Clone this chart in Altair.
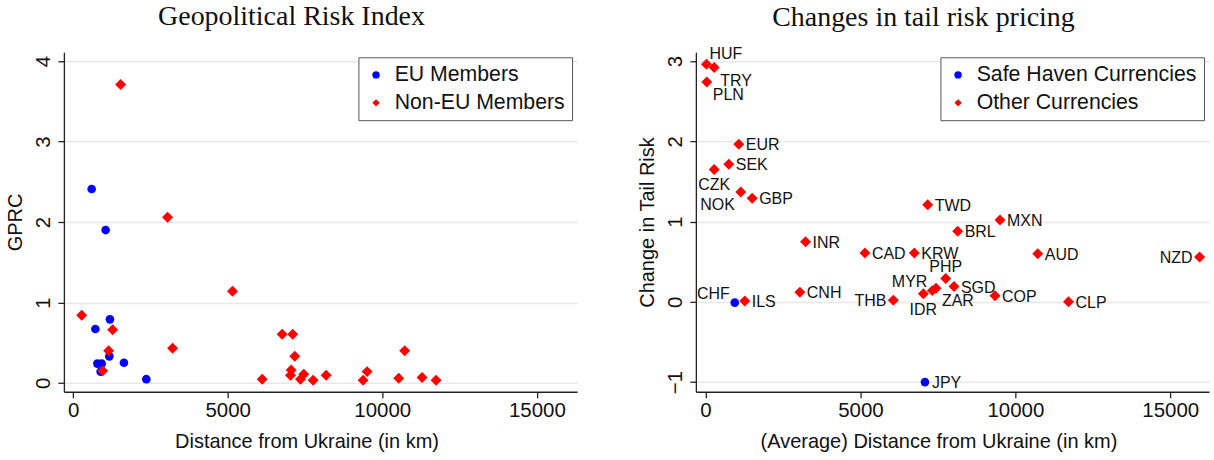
import altair as alt
import pandas as pd

# ---------------- Left panel: Geopolitical Risk Index ----------------
eu_distance = [598, 1050, 1189, 718, 1170, 782, 921, 889, 1642, 2366]
eu_gprc = [2.41, 1.90, 0.79, 0.67, 0.33, 0.24, 0.24, 0.14, 0.25, 0.046]

noneu_distance = [275, 1277, 1147, 953, 1535, 3054, 5155, 3216, 6115, 6761,
                  7104, 7169, 7052, 7030, 7460, 7353, 7763, 8183, 9509, 9379,
                  10724, 10530, 11286, 11739]
noneu_gprc = [0.84, 0.66, 0.40, 0.15, 3.71, 2.06, 1.14, 0.43, 0.046, 0.605,
              0.605, 0.33, 0.16, 0.096, 0.108, 0.046, 0.034, 0.096, 0.14, 0.034,
              0.40, 0.058, 0.066, 0.034]

left_groups = ["EU Members", "Non-EU Members"]

# ---------------- Right panel: Changes in tail risk pricing ----------------
currencies = ["HUF", "TRY", "PLN", "EUR", "SEK", "CZK", "NOK", "GBP", "TWD", "MXN",
              "BRL", "INR", "CAD", "KRW", "CNH", "CHF", "ILS", "THB", "JPY", "PHP",
              "SGD", "IDR", "MYR", "ZAR", "COP", "CLP", "AUD", "NZD"]
avg_distance = [32, 281, 42, 1076, 753, 281, 1140, 1508, 7171, 9506,
                8140, 3230, 5146, 6741, 3046, 946, 1269, 6063, 7083, 7752,
                8020, 7032, 7322, 7439, 9344, 11715, 10724, 15946]
tail_change = [2.96, 2.92, 2.74, 1.965, 1.716, 1.65, 1.37, 1.29, 1.21, 1.02,
               0.88, 0.75, 0.61, 0.61, 0.12, -0.01, 0.01, 0.02, -1.0, 0.29,
               0.19, 0.10, 0.14, 0.17, 0.075, 0.0, 0.60, 0.56]
safe_haven = ["CHF", "JPY"]
right_groups = ["Safe Haven Currencies", "Other Currencies"]

# label placement (style only)
label_pos = {"HUF": "tr", "TRY": "br", "PLN": "br", "CZK": "b", "NOK": "bl",
             "CHF": "tl", "THB": "l", "NZD": "l", "PHP": "t", "MYR": "tl",
             "IDR": "b", "ZAR": "br"}
pos_style = {
    "r": dict(dx=7, dy=1, align="left"),
    "l": dict(dx=-7, dy=1, align="right"),
    "t": dict(dx=0, dy=-12, align="center"),
    "b": dict(dx=0, dy=16, align="center"),
    "tr": dict(dx=3, dy=-10, align="left"),
    "br": dict(dx=6, dy=13, align="left"),
    "bl": dict(dx=-6, dy=13, align="right"),
    "tl": dict(dx=-5, dy=-9, align="right"),
}

BLUE = "#0000ff"
RED = "#ff0000"
W, H = 514, 340

left_df = pd.DataFrame({
    "dist": eu_distance + noneu_distance,
    "value": eu_gprc + noneu_gprc,
    "group": [left_groups[0]] * len(eu_distance) + [left_groups[1]] * len(noneu_distance),
})

right_df = pd.DataFrame({
    "code": currencies,
    "dist": avg_distance,
    "value": tail_change,
    "group": [right_groups[0] if c in safe_haven else right_groups[1] for c in currencies],
    "pos": [label_pos.get(c, "r") for c in currencies],
})


def legend():
    return alt.Legend(title=None, orient="top-right", offset=5, padding=7,
                      strokeColor="#555555", fillColor="white",
                      labelFontSize=21.3, labelFont="Liberation Sans", labelColor="#111111",
                      labelLimit=500, symbolSize=55, symbolStrokeWidth=0, rowPadding=6,
                      labelOffset=8, symbolType="circle")


def points(df, groups, xdom, ydom, yvals, xtitle, ytitle):
    return alt.Chart(df).mark_point(filled=True, opacity=1, strokeWidth=0).encode(
        x=alt.X("dist:Q", scale=alt.Scale(domain=xdom, nice=False, zero=False),
                axis=alt.Axis(title=xtitle, values=[0, 5000, 10000, 15000], format="d",
                              grid=False, labelPadding=3, titlePadding=10, titleX=243)),
        y=alt.Y("value:Q", scale=alt.Scale(domain=ydom, nice=False, zero=False),
                axis=alt.Axis(title=ytitle, values=yvals, format="d", grid=True,
                              labelAngle=270, labelAlign="center", labelBaseline="bottom",
                              labelPadding=4, titlePadding=8)),
        color=alt.Color("group:N", scale=alt.Scale(domain=groups, range=[BLUE, RED]),
                        legend=legend()),
        shape=alt.Shape("group:N", scale=alt.Scale(domain=groups, range=["circle", "diamond"]),
                        legend=legend()),
        size=alt.condition(alt.datum.group == groups[0], alt.value(75), alt.value(121)),
    )


left = points(left_df, left_groups, [-300, 16300], [-0.11, 4.11], [0, 1, 2, 3, 4],
              "Distance from Ukraine (in km)", "GPRC").properties(
    width=W, height=H, title=alt.TitleParams("Geopolitical Risk Index", offset=21))

right_pts = points(right_df, right_groups, [-310, 16250], [-1.12, 3.11], [-1, 0, 1, 2, 3],
                   "(Average) Distance from Ukraine (in km)", "Change in Tail Risk")

text_layers = []
for p, st in pos_style.items():
    text_layers.append(
        alt.Chart(right_df).transform_filter(
            alt.FieldOneOfPredicate(field="pos", oneOf=[p])
        ).mark_text(font="Liberation Sans", fontSize=16, color="#111111",
                    baseline="middle", **st).encode(
            x="dist:Q", y="value:Q", text="code:N")
    )

right = alt.layer(right_pts, *text_layers).properties(
    width=W, height=H, title=alt.TitleParams("Changes in tail risk pricing", offset=14))

chart = alt.hconcat(left, right, spacing=60).resolve_scale(
    color="independent", shape="independent"
).resolve_legend(color="independent", shape="independent").properties(
    padding={"left": 5, "top": 3, "right": 5, "bottom": 5}
).configure_view(stroke=None).configure_axis(
    domainColor="#222222", domainWidth=1.3, tickColor="#222222", tickSize=6, tickWidth=1.3,
    labelFont="Liberation Sans", labelFontSize=20.5, labelColor="#111111",
    titleFont="Liberation Sans", titleFontSize=20, titleFontWeight="normal", titleColor="#111111",
    gridColor="#e8e8e8", gridWidth=1.5,
).configure_title(
    font="Liberation Serif", fontSize=28, fontWeight="normal", anchor="middle",
    frame="bounds", color="#111111",
)

chart.save("out.html", embed_options={"renderer": "svg", "actions": False})
